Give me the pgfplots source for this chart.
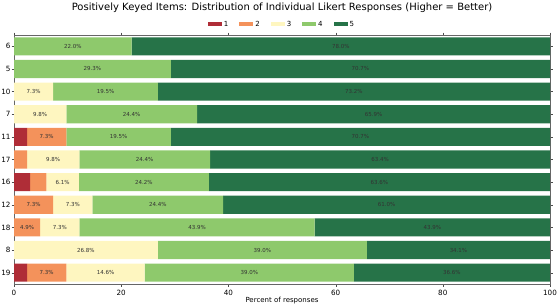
\documentclass[border=0pt]{standalone}
\usepackage{pgfplots}
\pgfplotsset{compat=1.18}
\usepackage{pgfplotstable}
\usepackage{fontspec}
\setmainfont{DejaVu Sans}
\definecolor{c1}{RGB}{175,45,55}
\definecolor{c2}{RGB}{244,146,91}
\definecolor{c3}{RGB}{254,246,192}
\definecolor{c4}{RGB}{142,201,108}
\definecolor{c5}{RGB}{38,115,72}
\pgfplotstableread{
y a b c d e
0 0 0 0 21.951 78.049
1 0 0 0 29.268 70.732
2 0 0 7.317 19.512 73.171
3 0 0 9.756 24.390 65.854
4 2.439 7.317 0 19.512 70.732
5 0 2.439 9.756 24.390 63.415
6 3.030 3.030 6.061 24.242 63.636
7 0 7.317 7.317 24.390 60.976
8 0 4.878 7.317 43.902 43.902
9 0 0 26.829 39.024 34.146
10 2.439 7.317 14.634 39.024 36.585
}\data
\begin{document}
\begin{tikzpicture}
\begin{axis}[
  scale only axis,
  width=536pt, height=249pt,
  xbar stacked,
  bar width=0.8,
  y dir=reverse,
  xmin=0, xmax=100,
  ymin=-0.5, ymax=10.5,
  ytick={0,...,10},
  yticklabels={6,5,10,7,11,17,16,12,18,8,19},
  xtick={0,20,40,60,80,100},
  tick align=outside,
  tick style={black!70, major tick length=2.5pt},
  axis line style={black!60},
  tick label style={font=\fontsize{7.2}{8}\selectfont},
  yticklabel style={inner sep=0.8pt},
  /pgf/number format/assume math mode=true,
  xlabel={Percent of responses},
  xlabel style={font=\fontsize{7}{8}\selectfont, yshift=5pt},
  title={Positively Keyed Items: Distribution of Individual Likert Responses (Higher = Better)},
  title style={font=\fontsize{10}{11}\selectfont, yshift=13pt},
  legend style={at={(0.5,1.012)}, anchor=south, draw=none, legend columns=-1,
    font=\fontsize{7}{8}\selectfont,
    /tikz/every even column/.append style={column sep=9pt}},
  legend image code/.code={\fill[#1] (0pt,-2pt) rectangle (14pt,2.2pt);},
  point meta=explicit,
  nodes near coords={\pgfmathfloattofixed{\pgfplotspointmeta}\let\v=\pgfmathresult\ifdim\v pt<4pt\else\pgfmathprintnumber[fixed,fixed zerofill,precision=1]{\v}\%\fi},
  every node near coord/.append style={font=\fontsize{5.5}{6}\selectfont, text=black!80},
]
\addplot[fill=c1, draw=none] table[x=a, y=y, meta=a] {\data};
\addplot[fill=c2, draw=none] table[x=b, y=y, meta=b] {\data};
\addplot[fill=c3, draw=none] table[x=c, y=y, meta=c] {\data};
\addplot[fill=c4, draw=none] table[x=d, y=y, meta=d] {\data};
\addplot[fill=c5, draw=none] table[x=e, y=y, meta=e] {\data};
\legend{1,2,3,4,5}
\end{axis}
\pgfresetboundingbox
\path[use as bounding box] ([xshift=-14pt,yshift=-24pt]current axis.south west) rectangle ([xshift=10pt,yshift=35pt]current axis.north east);
\end{tikzpicture}
\end{document}
